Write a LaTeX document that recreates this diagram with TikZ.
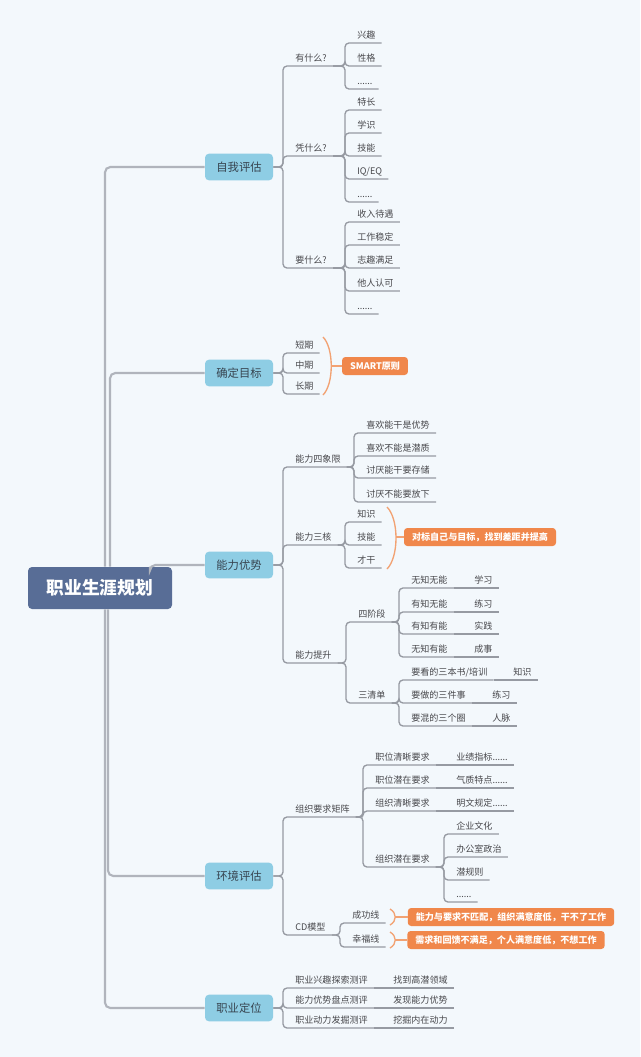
\documentclass[tikz,border=0pt]{standalone}
\usepackage{fontspec}
\setmainfont{Noto Sans CJK SC}
\definecolor{bgcol}{RGB}{243,248,252}
\definecolor{rootblue}{RGB}{88,109,150}
\definecolor{mainblue}{RGB}{142,205,228}
\definecolor{maintext}{RGB}{55,68,80}
\definecolor{leaftext}{RGB}{72,72,76}
\definecolor{linegray}{RGB}{150,154,162}
\definecolor{trunkgray}{RGB}{176,180,188}
\definecolor{tagorange}{RGB}{240,135,75}
\definecolor{braceorange}{RGB}{242,162,115}

\begin{document}
\begin{tikzpicture}[x=0.75pt,y=-0.75pt,
  rootbox/.style={fill=rootblue,text=white,rounded corners=3pt,minimum width=108pt,minimum height=31.5pt,font=\fontsize{13.3}{15}\selectfont\bfseries},
  mainbox/.style={fill=mainblue,text=maintext,rounded corners=3pt,minimum width=51pt,minimum height=20pt,font=\fontsize{8.5}{10}\selectfont},
  topic/.style={anchor=south west,inner xsep=4.5pt,inner ysep=3.4pt,text depth=0pt,text=leaftext,font=\fontsize{6.8}{8}\selectfont},
  tag/.style={fill=tagorange,text=white,rounded corners=2.5pt,minimum height=13.5pt,inner xsep=6pt,inner ysep=0pt,font=\fontsize{6.8}{8}\selectfont\bfseries},
  trunk/.style={draw=trunkgray,line width=1.6pt,rounded corners=4pt},
  link/.style={draw=linegray,line width=1pt,rounded corners=3pt},
  brace/.style={draw=braceorange,line width=1pt}]
\fill [bgcol] (0,0) rectangle (640,1057);

\node[rootbox] (root) at (100,588) {职业生涯规划};
\node[mainbox] (a) at (239,167) {自我评估};
\node[mainbox] (b) at (239,373) {确定目标};
\node[mainbox] (c) at (239,565) {能力优势};
\node[mainbox] (d) at (239,876) {环境评估};
\node[mainbox] (e) at (239,1008) {职业定位};

\draw[trunk] ([xshift=3.75pt]root.north) |- (a.west);
\draw[trunk] ([xshift=7.5pt]root.north) |- (b.west);
\draw[trunk] ([xshift=37.5pt]root.north) |- (c.west);
\draw[trunk] ([xshift=6pt]root.south) |- (d.west);
\draw[trunk] ([xshift=3.75pt]root.south) |- (e.west);

% 自我评估
\node[topic] (a1) at (289,66) {有什么?};
\node[topic] (a2) at (289,156) {凭什么?};
\node[topic] (a3) at (289,268) {要什么?};
\node[topic] (a11) at (351,43) {兴趣};
\node[topic] (a12) at (351,66) {性格};
\node[topic] (a13) at (351,89) {......};
\node[topic] (a21) at (351,110) {特长};
\node[topic] (a22) at (351,133) {学识};
\node[topic] (a23) at (351,156) {技能};
\node[topic] (a24) at (351,179) {IQ/EQ};
\node[topic] (a25) at (351,202) {......};
\node[topic] (a31) at (351,222) {收入待遇};
\node[topic] (a32) at (351,245) {工作稳定};
\node[topic] (a33) at (351,268) {志趣满足};
\node[topic] (a34) at (351,291) {他人认可};
\node[topic] (a35) at (351,314) {......};
\draw[link] (a.east) -| ([xshift=-4.5pt]a1.south west) -- (a1.south east);
\draw[link] (a.east) -| ([xshift=-4.5pt]a2.south west) -- (a2.south east);
\draw[link] (a.east) -| ([xshift=-4.5pt]a3.south west) -- (a3.south east);
\draw[link] (a1.south east) -| ([xshift=-4.5pt]a11.south west) -- (a11.south east);
\draw[link] (a1.south east) -| ([xshift=-4.5pt]a12.south west) -- (a12.south east);
\draw[link] (a1.south east) -| ([xshift=-4.5pt]a13.south west) -- (a13.south east);
\draw[link] (a2.south east) -| ([xshift=-4.5pt]a21.south west) -- (a21.south east);
\draw[link] (a2.south east) -| ([xshift=-4.5pt]a22.south west) -- (a22.south east);
\draw[link] (a2.south east) -| ([xshift=-4.5pt]a23.south west) -- (a23.south east);
\draw[link] (a2.south east) -| ([xshift=-4.5pt]a24.south west) -- (a24.south east);
\draw[link] (a2.south east) -| ([xshift=-4.5pt]a25.south west) -- (a25.south east);
\draw[link] (a3.south east) -| ([xshift=-4.5pt]a31.south west) -- (a31.south east);
\draw[link] (a3.south east) -| ([xshift=-4.5pt]a32.south west) -- (a32.south east);
\draw[link] (a3.south east) -| ([xshift=-4.5pt]a33.south west) -- (a33.south east);
\draw[link] (a3.south east) -| ([xshift=-4.5pt]a34.south west) -- (a34.south east);
\draw[link] (a3.south east) -| ([xshift=-4.5pt]a35.south west) -- (a35.south east);

% 确定目标
\node[topic] (b1) at (289,353) {短期};
\node[topic] (b2) at (289,373) {中期};
\node[topic] (b3) at (289,394) {长期};
\node[tag] (smart) at (375,366) {SMART原则};
\draw[link] (b.east) -| ([xshift=-4.5pt]b1.south west) -- (b1.south east);
\draw[link] (b.east) -| ([xshift=-4.5pt]b2.south west) -- (b2.south east);
\draw[link] (b.east) -| ([xshift=-4.5pt]b3.south west) -- (b3.south east);
\draw[brace] (323,337) .. controls (334,348) and (334,384) .. (323,395);
\coordinate (bt) at (331,366);
\draw[brace] (bt) -- (smart.west);

% 能力优势
\node[topic] (c1) at (289,467) {能力四象限};
\node[topic] (c2) at (289,545) {能力三核};
\node[topic] (c3) at (289,663) {能力提升};
\node[topic] (c11) at (360,433) {喜欢能干是优势};
\node[topic] (c12) at (360,456) {喜欢不能是潜质};
\node[topic] (c13) at (360,478) {讨厌能干要存储};
\node[topic] (c14) at (360,502) {讨厌不能要放下};
\node[topic] (c21) at (351,522) {知识};
\node[topic] (c22) at (351,545) {技能};
\node[topic] (c23) at (351,568) {才干};
\node[tag] (core) at (480,537) {对标自己与目标，找到差距并提高};
\node[topic] (c31) at (352,622) {四阶段};
\node[topic] (c32) at (352,703) {三清单};
\node[topic] (c311) at (405,588) {无知无能};
\node[topic] (c312) at (405,612) {有知无能};
\node[topic] (c313) at (405,634) {有知有能};
\node[topic] (c314) at (405,657) {无知有能};
\node[topic] (c3111) at (468,588) {学习};
\node[topic] (c3121) at (468,612) {练习};
\node[topic] (c3131) at (468,634) {实践};
\node[topic] (c3141) at (468,657) {成事};
\node[topic] (c321) at (405,680) {要看的三本书/培训};
\node[topic] (c322) at (405,703) {要做的三件事};
\node[topic] (c323) at (405,726) {要混的三个圈};
\node[topic] (c3211) at (507,680) {知识};
\node[topic] (c3221) at (486,703) {练习};
\node[topic] (c3231) at (486,726) {人脉};
\draw[link] (c.east) -| ([xshift=-4.5pt]c1.south west) -- (c1.south east);
\draw[link] (c.east) -| ([xshift=-4.5pt]c2.south west) -- (c2.south east);
\draw[link] (c.east) -| ([xshift=-4.5pt]c3.south west) -- (c3.south east);
\draw[link] (c1.south east) -| ([xshift=-4.5pt]c11.south west) -- (c11.south east);
\draw[link] (c1.south east) -| ([xshift=-4.5pt]c12.south west) -- (c12.south east);
\draw[link] (c1.south east) -| ([xshift=-4.5pt]c13.south west) -- (c13.south east);
\draw[link] (c1.south east) -| ([xshift=-4.5pt]c14.south west) -- (c14.south east);
\draw[link] (c2.south east) -| ([xshift=-4.5pt]c21.south west) -- (c21.south east);
\draw[link] (c2.south east) -| ([xshift=-4.5pt]c22.south west) -- (c22.south east);
\draw[link] (c2.south east) -| ([xshift=-4.5pt]c23.south west) -- (c23.south east);
\draw[brace] (387,507) .. controls (399,519) and (399,557) .. (387,569);
\coordinate (ct) at (396,537);
\draw[brace] (ct) -- (core.west);
\draw[link] (c3.south east) -| ([xshift=-4.5pt]c31.south west) -- (c31.south east);
\draw[link] (c3.south east) -| ([xshift=-4.5pt]c32.south west) -- (c32.south east);
\draw[link] (c31.south east) -| ([xshift=-4.5pt]c311.south west) -- (c311.south east);
\draw[link] (c31.south east) -| ([xshift=-4.5pt]c312.south west) -- (c312.south east);
\draw[link] (c31.south east) -| ([xshift=-4.5pt]c313.south west) -- (c313.south east);
\draw[link] (c31.south east) -| ([xshift=-4.5pt]c314.south west) -- (c314.south east);
\draw[link] (c311.south east) -- (c3111.south east);
\draw[link] (c312.south east) -- (c3121.south east);
\draw[link] (c313.south east) -- (c3131.south east);
\draw[link] (c314.south east) -- (c3141.south east);
\draw[link] (c32.south east) -| ([xshift=-4.5pt]c321.south west) -- (c321.south east);
\draw[link] (c32.south east) -| ([xshift=-4.5pt]c322.south west) -- (c322.south east);
\draw[link] (c32.south east) -| ([xshift=-4.5pt]c323.south west) -- (c323.south east);
\draw[link] (c321.south east) -- (c3211.south east);
\draw[link] (c322.south east) -- (c3221.south east);
\draw[link] (c323.south east) -- (c3231.south east);

% 环境评估
\node[topic] (d1) at (289,817) {组织要求矩阵};
\node[topic] (d2) at (289,935) {CD模型};
\node[topic] (d11) at (369,765) {职位清晰要求};
\node[topic] (d12) at (369,788) {职位潜在要求};
\node[topic] (d13) at (369,811) {组织清晰要求};
\node[topic] (d14) at (369,867) {组织潜在要求};
\node[topic] (d111) at (450,765) {业绩指标......};
\node[topic] (d121) at (450,788) {气质特点......};
\node[topic] (d131) at (450,811) {明文规定......};
\node[topic] (d141) at (450,834) {企业文化};
\node[topic] (d142) at (450,857) {办公室政治};
\node[topic] (d143) at (450,880) {潜规则};
\node[topic] (d144) at (450,902) {......};
\node[topic] (d21) at (346,923) {成功线};
\node[topic] (d22) at (346,947) {幸福线};
\node[tag] (win) at (511,917) {能力与要求不匹配，组织满意度低，干不了工作};
\node[tag] (joy) at (506,940) {需求和回馈不满足，个人满意度低，不想工作};
\draw[link] (d.east) -| ([xshift=-4.5pt]d1.south west) -- (d1.south east);
\draw[link] (d.east) -| ([xshift=-4.5pt]d2.south west) -- (d2.south east);
\draw[link] (d1.south east) -| ([xshift=-4.5pt]d11.south west) -- (d11.south east);
\draw[link] (d1.south east) -| ([xshift=-4.5pt]d12.south west) -- (d12.south east);
\draw[link] (d1.south east) -| ([xshift=-4.5pt]d13.south west) -- (d13.south east);
\draw[link] (d1.south east) -| ([xshift=-4.5pt]d14.south west) -- (d14.south east);
\draw[link] (d11.south east) -- (d111.south east);
\draw[link] (d12.south east) -- (d121.south east);
\draw[link] (d13.south east) -- (d131.south east);
\draw[link] (d14.south east) -| ([xshift=-4.5pt]d141.south west) -- (d141.south east);
\draw[link] (d14.south east) -| ([xshift=-4.5pt]d142.south west) -- (d142.south east);
\draw[link] (d14.south east) -| ([xshift=-4.5pt]d143.south west) -- (d143.south east);
\draw[link] (d14.south east) -| ([xshift=-4.5pt]d144.south west) -- (d144.south east);
\draw[link] (d2.south east) -| ([xshift=-4.5pt]d21.south west) -- (d21.south east);
\draw[link] (d2.south east) -| ([xshift=-4.5pt]d22.south west) -- (d22.south east);
\draw[brace] (390,909) .. controls (397,913) and (397,921) .. (390,925);
\draw[brace] (390,932) .. controls (397,936) and (397,944) .. (390,948);
\coordinate (dt1) at (395,917);
\coordinate (dt2) at (395,940);
\draw[brace] (dt1) -- (win.west);
\draw[brace] (dt2) -- (joy.west);

% 职业定位
\node[topic] (e1) at (289,988) {职业兴趣探索测评};
\node[topic] (e2) at (289,1008) {能力优势盘点测评};
\node[topic] (e3) at (289,1028) {职业动力发掘测评};
\node[topic] (e11) at (387,988) {找到高潜领域};
\node[topic] (e21) at (387,1008) {发现能力优势};
\node[topic] (e31) at (387,1028) {挖掘内在动力};
\draw[link] (e.east) -| ([xshift=-4.5pt]e1.south west) -- (e1.south east);
\draw[link] (e.east) -| ([xshift=-4.5pt]e2.south west) -- (e2.south east);
\draw[link] (e.east) -| ([xshift=-4.5pt]e3.south west) -- (e3.south east);
\draw[link] (e1.south east) -- (e11.south east);
\draw[link] (e2.south east) -- (e21.south east);
\draw[link] (e3.south east) -- (e31.south east);
\end{tikzpicture}
\end{document}
